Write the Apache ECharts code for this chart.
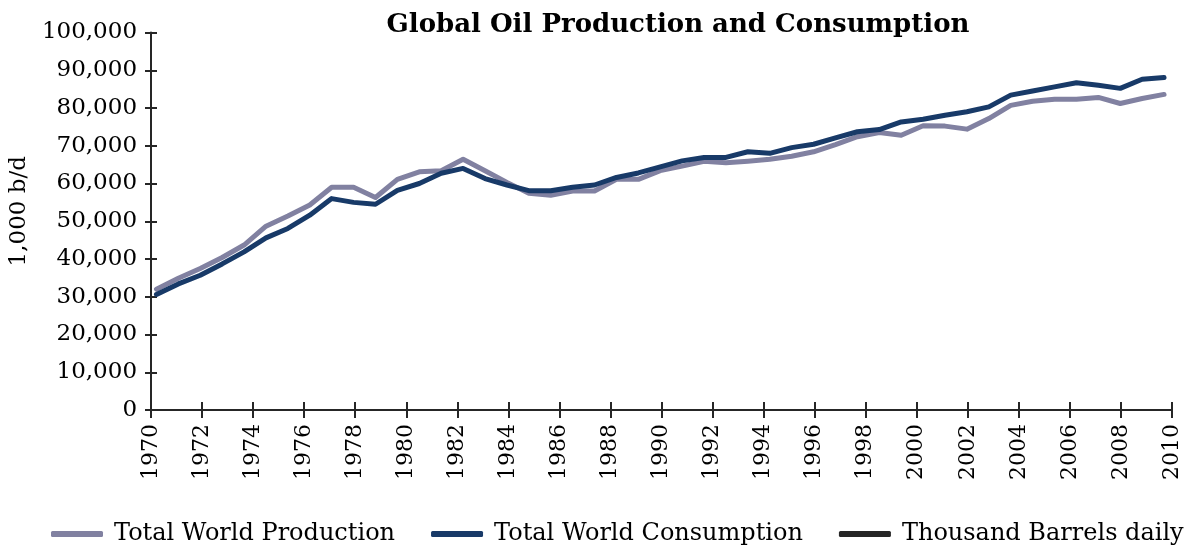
<!DOCTYPE html>
<html>
<head>
<meta charset="utf-8">
<title>Global Oil Production and Consumption</title>
<script src="https://cdn.jsdelivr.net/npm/echarts@6/dist/echarts.min.js"></script>
<style>
html, body { margin: 0; padding: 0; background: #fff; }
#chart { width: 1194px; height: 547px; }
</style>
</head>
<body>
<div id="chart"></div>
<script>
// data years (plotted on a hidden category axis)
var years = [1965, 1966, 1967, 1968, 1969, 1970, 1971, 1972, 1973, 1974,
    1975, 1976, 1977, 1978, 1979, 1980, 1981, 1982, 1983, 1984,
    1985, 1986, 1987, 1988, 1989, 1990, 1991, 1992, 1993, 1994,
    1995, 1996, 1997, 1998, 1999, 2000, 2001, 2002, 2003, 2004,
    2005, 2006, 2007, 2008, 2009, 2010, 2011];

// 1,000 b/d
var production = [32000, 34900, 37500, 40400, 43700, 48700, 51400, 54300, 59000, 59000,
    56300, 61100, 63100, 63400, 66400, 63400, 60300, 57400, 56900, 58000,
    58000, 61100, 61100, 63400, 64600, 65900, 65500, 65900, 66400, 67200,
    68400, 70300, 72400, 73500, 72800, 75300, 75200, 74400, 77200, 80700,
    81800, 82300, 82300, 82800, 81200, 82500, 83600];

var consumption = [30600, 33400, 35700, 38700, 41900, 45600, 48100, 51600, 56000, 55000,
    54500, 58200, 60000, 62700, 64000, 61300, 59600, 58100, 58100, 59000,
    59600, 61600, 62800, 64400, 66000, 66900, 66900, 68400, 68000, 69500,
    70400, 72100, 73700, 74300, 76300, 77000, 78100, 79000, 80300, 83400,
    84500, 85600, 86700, 86000, 85200, 87600, 88100];

// visible axis range
var xMin = 1970, xMax = 2010, xStep = 2;
var yMin = 0, yMax = 100000, yStep = 10000;

var seriesNames = ['Total World Production', 'Total World Consumption', 'Thousand Barrels daily'];
var colors = ['#8181a1', '#183a68', '#262626'];

var FONT = 'DejaVu Serif';
var axisCol = '#262626';

var chart = echarts.init(document.getElementById('chart'));
chart.setOption({
    animation: false,
    color: colors,
    title: {
        text: 'Global Oil Production and Consumption',
        left: 673,
        textAlign: 'center',
        top: 7,
        textStyle: { fontFamily: FONT, fontWeight: 'bold', fontSize: 26, color: '#000' }
    },
    legend: {
        data: seriesNames,
        left: 46,
        top: 517,
        itemWidth: 52,
        itemHeight: 6,
        itemGap: 36,
        icon: 'roundRect',
        textStyle: { fontFamily: FONT, fontSize: 24, color: '#000', padding: [0, 0, 0, 6] }
    },
    grid: [
        { left: 147, right: 22, top: 32.5, bottom: 137 },
        // data grid, slightly wider so points sit where the reference puts them
        { left: 145.5, right: 19, top: 32.5, bottom: 137 }
    ],
    xAxis: [{
        type: 'value', gridIndex: 0, position: 'bottom', min: xMin, max: xMax, interval: xStep,
        axisLine: { lineStyle: { color: axisCol, width: 2 } },
        axisTick: { length: 8, lineStyle: { color: axisCol, width: 2 } },
        axisLabel: {
            rotate: 90, margin: 14, color: '#000', fontFamily: FONT, fontSize: 22,
            formatter: function (v) { return String(v); }
        },
        splitLine: { show: false }
    }, {
        type: 'value', gridIndex: 0, position: 'bottom', min: xMin, max: xMax, interval: xStep,
        axisLine: { show: false },
        axisTick: { inside: true, length: 8, lineStyle: { color: axisCol, width: 2 } },
        axisLabel: { show: false },
        splitLine: { show: false }
    }, {
        type: 'category', gridIndex: 1, data: years, boundaryGap: true, show: false
    }],
    yAxis: [{
        type: 'value', gridIndex: 0, position: 'left', min: yMin, max: yMax, interval: yStep,
        name: '1,000 b/d',
        nameLocation: 'middle',
        nameGap: 109,
        nameTextStyle: { fontFamily: FONT, fontSize: 23, color: '#000', padding: [0, 0, 0, 20] },
        axisLine: { show: true, lineStyle: { color: axisCol, width: 2 } },
        axisTick: { show: true, length: 6, lineStyle: { color: axisCol, width: 2 } },
        axisLabel: { margin: 14, color: '#000', fontFamily: FONT, fontSize: 23 },
        splitLine: { show: false }
    }, {
        type: 'value', gridIndex: 0, position: 'left', min: yMin, max: yMax, interval: yStep,
        axisLine: { show: false },
        axisTick: { show: true, inside: true, length: 6, lineStyle: { color: axisCol, width: 2 } },
        axisLabel: { show: false },
        splitLine: { show: false }
    }, {
        type: 'value', gridIndex: 1, min: yMin, max: yMax, show: false
    }],
    series: [{
        name: seriesNames[0],
        type: 'line',
        xAxisIndex: 2, yAxisIndex: 2,
        data: production,
        symbol: 'none',
        lineStyle: { width: 5, cap: 'round', join: 'round' }
    }, {
        name: seriesNames[1],
        type: 'line',
        xAxisIndex: 2, yAxisIndex: 2,
        data: consumption,
        symbol: 'none',
        lineStyle: { width: 5, cap: 'round', join: 'round' }
    }, {
        name: seriesNames[2],
        type: 'line',
        xAxisIndex: 2, yAxisIndex: 2,
        data: [],
        symbol: 'none',
        lineStyle: { width: 5 }
    }]
});
</script>
</body>
</html>
